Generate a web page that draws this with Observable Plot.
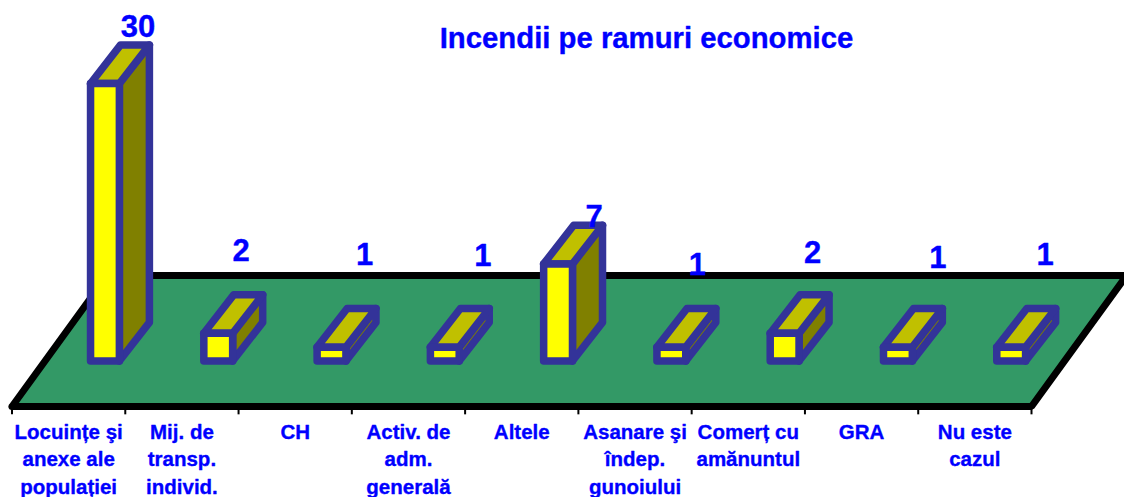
<!DOCTYPE html>
<html lang="ro">
<head>
<meta charset="utf-8">
<script src="https://cdn.jsdelivr.net/npm/d3@7"></script>
<script src="https://cdn.jsdelivr.net/npm/@observablehq/plot@0.6"></script>
<style>
html,body{margin:0;padding:0;background:#fff;overflow:hidden}
svg{display:block}
</style>
</head>
<body>
<div id="chart"></div>
<script>
const categories = ["Locuințe şi\nanexe ale\npopulației","Mij. de\ntransp.\nindivid.","CH","Activ. de\nadm.\ngenerală","Altele","Asanare şi\nîndep.\ngunoiului","Comerț cu\namănuntul","GRA","Nu este\ncazul"];
const values = [30,2,1,1,7,1,2,1,1];
const valueLabels = ["30","2","1","1","7","1","2","1","1"];
const titleText = "Incendii pe ramuri economice";

// The value axis stops at 20: the taller bar is cut there while its label still says 30.
const axisMax = 20;
// Projection of the oblique view, in scale units.
const barStart = 0.6934, barWidth = 0.2545, barDepthX = 0.265, barDepthY = 2.78;
const floorFront = -3.28, floorBack = 6.16, floorSkew = 0.839;
// Hand placed offsets of the value labels, in pixels.
const labelNudgeX = [18,8,18,23,21,11,13,25,19];
const labelNudgeY = [-18,-44,-53,-52,-8,-43,-42,-50,-53];

const rows = values.map((v,i)=>{
  const h = Math.min(v,axisMax), l = i+barStart, r = l+barWidth;
  return {i,h,l,r};
});
const poly = f => rows.flatMap(b => f(b).map(([x,y])=>({bar:b.i,x,y})));
const front = poly(({l,r,h})=>[[l,0],[r,0],[r,h],[l,h],[l,0]]);
const top_ = poly(({l,r,h})=>[[l,h],[r,h],[r+barDepthX,h+barDepthY],[l+barDepthX,h+barDepthY],[l,h]]);
const side = poly(({r,h})=>[[r,0],[r+barDepthX,barDepthY],[r+barDepthX,h+barDepthY],[r,h],[r,0]]);
const floor = [[0,floorFront],[categories.length,floorFront],[categories.length+floorSkew,floorBack],[floorSkew,floorBack],[0,floorFront]].map(([x,y])=>({x,y}));
const ticks = d3.range(categories.length+1);
const faceOpts = {x:"x",y:"y",z:"bar",stroke:"#333399",strokeWidth:7.5,strokeLinejoin:"round"};
const font = {fontFamily:"'Liberation Sans',Arial,sans-serif",fontWeight:"bold",fill:"#0000FF",stroke:"#0000FF",strokeWidth:0.35};

const chart = Plot.plot({
  width:1124,height:497,margin:0,
  style:{background:"#fff",overflow:"hidden"},
  x:{domain:[0,categories.length],range:[11.5,1031],axis:null},
  y:{domain:[0,axisMax],range:[360.5,83],axis:null},
  marks:[
    Plot.line(floor,{x:"x",y:"y",fill:"#339966",stroke:"#000",strokeWidth:7,strokeLinejoin:"miter",strokeLinecap:"round"}),
    Plot.ruleX(ticks,{x:d=>d,y1:floorFront,y2:floorFront-0.6,stroke:"#000",strokeWidth:2}),
    Plot.line(side,{...faceOpts,fill:"#808000"}),
    Plot.line(top_,{...faceOpts,fill:"#C0C000"}),
    Plot.line(front,{...faceOpts,fill:"#FFFF00"}),
    Plot.text(categories,{x:(d,i)=>i+0.5,y:floorFront-0.93,text:d=>d,textAnchor:"middle",lineAnchor:"top",lineHeight:1.34,fontSize:20.5,...font}),
    ...rows.map((b,k)=>Plot.text([b],{
      x:d=>d.l+barWidth/2+barDepthX/2,
      y:d=>d.h+barDepthY,
      text:()=>valueLabels[k],
      dx:labelNudgeX[k],dy:labelNudgeY[k],
      textAnchor:"middle",lineAnchor:"middle",fontSize:31,...font
    })),
    Plot.text([titleText],{frameAnchor:"top",dx:84,dy:27,text:d=>d,textAnchor:"middle",lineAnchor:"top",fontSize:29.3,...font})
  ]
});
document.getElementById("chart").append(chart);
</script>
</body>
</html>
